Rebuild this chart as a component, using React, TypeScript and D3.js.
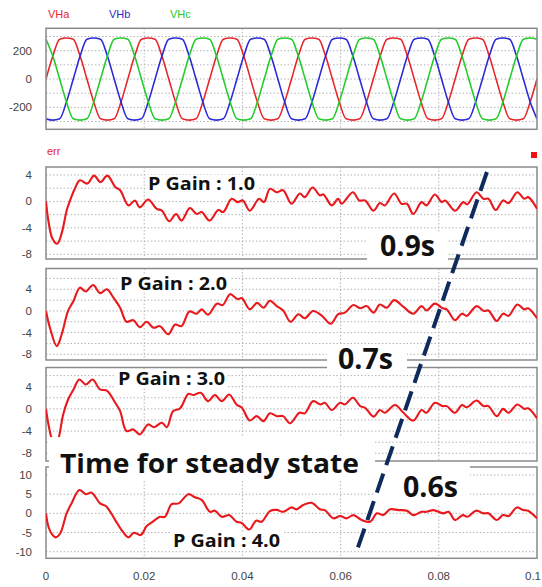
import React from 'react';
import * as d3 from 'd3';

const W = 542;
const H = 587;

// ---- data ----
const timeTicks = [0, 0.02, 0.04, 0.06, 0.08, 0.1];
const timeTickLabels = ['0', '0.02', '0.04', '0.06', '0.08', '0.1'];
const timeGrid = [0.02, 0.04, 0.06, 0.08];

const phaseNames = ['VHa', 'VHb', 'VHc'];
const phaseColors = ['#e8262a', '#2a2ad6', '#22cc2a'];
const phaseStepMs = 100 / 72;
const vha = [
  0, 162, 281, 290, 281, 162, 0, -162, -281, -290, -281, -162,
  0, 162, 281, 290, 281, 162, 0, -162, -281, -290, -281, -162,
  0, 162, 281, 290, 281, 162, 0, -162, -281, -290, -281, -162,
  0, 162, 281, 290, 281, 162, 0, -162, -281, -290, -281, -162,
  0, 162, 281, 290, 281, 162, 0, -162, -281, -290, -281, -162,
  0, 162, 281, 290, 281, 162, 0, -162, -281, -290, -281, -162,
  0,
];
const vhb = [
  -281, -290, -281, -162, 0, 162, 281, 290, 281, 162, 0, -162,
  -281, -290, -281, -162, 0, 162, 281, 290, 281, 162, 0, -162,
  -281, -290, -281, -162, 0, 162, 281, 290, 281, 162, 0, -162,
  -281, -290, -281, -162, 0, 162, 281, 290, 281, 162, 0, -162,
  -281, -290, -281, -162, 0, 162, 281, 290, 281, 162, 0, -162,
  -281, -290, -281, -162, 0, 162, 281, 290, 281, 162, 0, -162,
  -281,
];
const vhc = [
  281, 162, 0, -162, -281, -290, -281, -162, 0, 162, 281, 290,
  281, 162, 0, -162, -281, -290, -281, -162, 0, 162, 281, 290,
  281, 162, 0, -162, -281, -290, -281, -162, 0, 162, 281, 290,
  281, 162, 0, -162, -281, -290, -281, -162, 0, 162, 281, 290,
  281, 162, 0, -162, -281, -290, -281, -162, 0, 162, 281, 290,
  281, 162, 0, -162, -281, -290, -281, -162, 0, 162, 281, 290,
  281,
];
const phaseTicks = [200, 0, -200];
const phaseGrid = [300, 200, 100, 0, -100, -200, -300];

// error curves: [time ms, error]
const errGain1: [number, number][] = [[0,0],[0.5,-3],[1.3,-5.6],[2.3,-6.4],[3.2,-4.8],[4.2,-1.4],[4.9,0.15],[5.8,1.8],[6.9,3.2],[8.4,2.7],[9.8,3.9],[11.1,2.9],[12.5,3.9],[14.1,2.2],[15.1,1.7],[16.8,-0.6],[18.1,0.15],[19.1,-0.9],[20.8,0.3],[22.5,-1.1],[23.6,-1.4],[25.1,-3.0],[26.5,-1.9],[27.6,-2.9],[29.3,-1.0],[30.7,-1.9],[31.7,-1.6],[33.3,-2.9],[35.1,-1.3],[36.1,-1.6],[37.8,0.4],[39,-0.1],[40.1,0.15],[41.5,-1.4],[43.4,0.4],[44.4,-0.1],[45.6,1.9],[47,1.4],[48.3,1.7],[50,-0.35],[51.7,1.2],[52.7,0.65],[54.3,2.1],[55.8,0.9],[56.5,1.06],[58.2,-0.6],[59.5,0.4],[60.2,-0.35],[62.5,1.4],[63.8,0.15],[65,0.15],[66.7,-1.4],[68,-0.25],[69,-0.6],[70.9,1.2],[72.4,-0.35],[73.5,-0.35],[74.8,-1.9],[76.5,-0.1],[77.5,-0.6],[79.2,1.06],[80.6,-0.1],[81.3,0.15],[83.3,-1.4],[85,-0.1],[85.8,-0.45],[87.7,1.4],[89.1,0.4],[90.1,0.4],[91.6,-1.3],[93.1,0.15],[94.2,-0.25],[96,1.4],[97.4,0.4],[98.2,0.65],[100,-1.1]];
const errGain2: [number, number][] = [[0,0],[0.8,-3.1],[2.2,-6.5],[3.2,-4.3],[4.5,0],[5.6,1.85],[6.9,4.3],[8.1,3.6],[9.6,4.8],[11,3.3],[12.4,4.0],[13.7,2.5],[15.1,0.6],[16.4,-2.0],[17.8,-1.7],[19.1,-3.0],[20.5,-2.0],[21.9,-3.1],[23.2,-2.8],[24.9,-4.3],[26.3,-2.5],[27.6,-2.8],[29.2,-0.1],[30.7,-0.5],[31.7,0.3],[33,-0.7],[34.8,1.35],[36,1.1],[37.5,3.1],[39,2.2],[39.9,2.35],[41.5,0.3],[43,1.5],[44.3,0.6],[45.6,1.9],[47,0.9],[48.3,0.1],[49.8,-2.0],[51.4,-0.6],[52.7,-1.35],[54.4,0],[56.2,-0.9],[58,-2.35],[59.5,-0.6],[60.9,-0.3],[62.6,1.1],[64,0.5],[65.3,0.9],[66.7,-0.3],[68,1.2],[69.4,0.6],[70.9,2.0],[72.8,0.75],[74.8,-0.5],[76.5,0.9],[77.5,0.1],[79.2,1.35],[80.8,0.5],[81.6,0.3],[83.3,-1.7],[84.7,-0.5],[85.7,-0.9],[87.7,0.9],[89.2,0],[90.1,0.1],[91.8,-1.85],[93.1,-0.5],[94.2,-0.9],[96,1.2],[97.4,0.3],[98.2,0.5],[100,-1.35]];
const errGain3: [number, number][] = [[0,0],[0.5,-2.8],[1.2,-5.4],[1.9,-6.2],[2.5,-5.4],[3.5,-1],[4.5,1.7],[5.6,3.5],[6.8,5.3],[8.1,4.4],[9.5,5.3],[11,3.5],[12.4,3.3],[14.1,1.1],[15.1,-0.4],[16.4,-4.0],[17.8,-3.7],[19.1,-4.6],[20.8,-2.8],[22,-3.3],[23.6,-2.5],[24.6,-3.3],[25.9,-0.4],[27.3,0.1],[29,2.7],[30,2.5],[31.5,2.9],[33,1.4],[34.4,2.5],[35.8,1.4],[37.3,2.6],[38.8,0.8],[39.9,0.2],[41.5,-2.1],[42.9,-1.3],[44.3,-2.2],[45.6,-0.8],[47,-1.3],[48.3,-1.3],[49.7,-2.6],[51.6,-0.7],[52.7,-0.8],[54.4,1.4],[55.9,0.8],[56.8,1.1],[58.2,-0.2],[59.9,1.1],[60.9,0.8],[62.5,2.0],[64,0.5],[65,0.2],[66.7,-1.4],[68,-0.2],[69,-0.7],[71.1,0.7],[72.8,-0.7],[74.8,-2.1],[76.5,-0.2],[77.5,-0.7],[79.2,1.1],[80.8,0.5],[81.6,0.5],[83.3,-0.7],[84.7,0.7],[85.7,0.3],[87.7,1.5],[89.1,0.5],[90.1,0.5],[91.8,-1.3],[93.1,0],[94.2,-0.7],[96,0.8],[97.4,0],[98.2,0.1],[100,-1.7]];
const errGain4: [number, number][] = [[0,0],[0.5,-3.5],[1.2,-5.4],[2,-6.25],[2.9,-5.2],[4.2,0],[5.2,2.6],[6.8,6.1],[8.1,5.0],[9.3,5.4],[11,2.6],[12.2,1.9],[14.1,-1.75],[15.4,-4.35],[16.8,-6.25],[17.9,-5.05],[19.3,-5.65],[20.5,-3.3],[21.7,-2.2],[23.2,-0.9],[24.2,-0.9],[25.6,2.4],[27,2.6],[29,5.0],[30.3,4.2],[31.7,3.5],[33.4,0.4],[34.4,0.7],[35.8,-0.9],[37.3,-0.45],[38.8,-2.2],[39.8,-2.45],[41.4,-4.2],[42.8,-1.9],[43.9,-2.2],[45.6,0.6],[47,0.9],[48.3,0.4],[50,1.55],[51,1.05],[52.4,2.2],[54.1,2.75],[55.8,1.05],[56.8,0.85],[58.5,-1.3],[59.9,-0.7],[61.2,-1.3],[62.6,-0.45],[64.3,-1.75],[66,-2.2],[67.4,0],[68.7,-0.45],[70.1,1.05],[71.8,0.85],[73.5,0.7],[74.8,-0.45],[76.5,0.4],[77.5,0.4],[78.9,0.85],[80.9,0],[82,0.4],[83.3,-1.75],[84.9,-0.45],[85.8,-0.9],[87.6,0.7],[89.1,0],[90.1,0],[91.8,-1.75],[93.1,-0.45],[94.2,-0.7],[95.9,1.55],[97.2,0.85],[98.2,0.7],[100,-1.3]];

const gainLabels = ['P Gain : 1.0', 'P Gain : 2.0', 'P Gain : 3.0', 'P Gain : 4.0'];
const settleLabels = ['0.9s', '0.7s', '0.6s'];
const errTicksSmall = [4, 0, -4, -8];
const errTicksLarge = [10, 5, 0, -5, -10];

// ---- layout ----
const X0 = 46;
const X1 = 537;
const x = d3.scaleLinear().domain([0, 0.1]).range([X0, X1]);

const topPanel = { top: 28.3, bottom: 129.3, domain: [-355, 358] };

const errPanels = [
  { top: 167, bottom: 259, domain: [-8.71, 5.21], ticks: errTicksSmall, grid: [4, 2, 0, -2, -4, -6, -8], data: errGain1 },
  { top: 268.5, bottom: 360, domain: [-9.05, 7.84], ticks: errTicksSmall, grid: [6, 4, 2, 0, -2, -4, -6, -8], data: errGain2 },
  { top: 367.5, bottom: 461, domain: [-9.39, 7.46], ticks: errTicksSmall, grid: [6, 4, 2, 0, -2, -4, -6, -8], data: errGain3 },
  { top: 467, bottom: 558.3, domain: [-11.72, 12.09], ticks: errTicksLarge, grid: [10, 5, 0, -5, -10], data: errGain4 },
];

const gainPos = [
  { x: 148, y: 190 },
  { x: 120, y: 290 },
  { x: 118, y: 385 },
  { x: 173, y: 547 },
];
const settlePos = [
  { x: 380, y: 256, box: [367, 232, 81, 32] },
  { x: 338, y: 369, box: [327, 344, 80, 28] },
  { x: 403, y: 496.5, box: [375, 462, 95, 43] },
];

const tickFont = '"Liberation Sans", Arial, sans-serif';
const boldFont = '"Open Sans", "Noto Sans", sans-serif';
const gridStroke = '#b4b4b4';
const frameStroke = '#8a8a8a';

function Frame({ top, bottom, id }: { top: number; bottom: number; id: string }) {
  return (
    <>
      <defs>
        <clipPath id={id}>
          <rect x={X0} y={top} width={X1 - X0} height={bottom - top} />
        </clipPath>
      </defs>
      {timeGrid.map((t) => (
        <line key={'v' + t} x1={x(t)} x2={x(t)} y1={top} y2={bottom}
          stroke={gridStroke} strokeWidth={1} strokeDasharray="1.5 2" />
      ))}
    </>
  );
}

export default function App() {
  const yTop = d3.scaleLinear().domain(topPanel.domain).range([topPanel.bottom, topPanel.top]);
  const phaseLine = d3
    .line<number>()
    .x((_, i) => x((i * phaseStepMs) / 1000))
    .y((v) => yTop(v))
    .curve(d3.curveMonotoneX);
  const phases = [vha, vhb, vhc];

  const dashTop = { t: 0.0898, y: 172 };
  const dashBottom = { t: 0.0635, y: 548 };

  return (
    <svg width={W} height={H} style={{ position: 'absolute', left: 0, top: 0, background: '#fff' }}>
      <rect x={0} y={0} width={W} height={H} fill="#fff" />

      {/* legend */}
      {phaseNames.map((n, i) => (
        <text key={n} x={48 + i * 61} y={18} fontSize={11} fontFamily={tickFont} fill={phaseColors[i]}>{n}</text>
      ))}

      {/* top panel */}
      <Frame top={topPanel.top} bottom={topPanel.bottom} id="clipTop" />
      {phaseGrid.map((v) => (
        <line key={'hg' + v} x1={X0} x2={X1} y1={yTop(v)} y2={yTop(v)} stroke={gridStroke} strokeWidth={1} strokeDasharray="1.5 2" />
      ))}
      {phaseTicks.map((v) => (
        <text key={'pt' + v} x={32} y={yTop(v)} dy="0.35em" textAnchor="end" fontSize={11.5} fontFamily={tickFont} fill="#444">{v}</text>
      ))}
      <g clipPath="url(#clipTop)">
        {phases.map((arr, i) => (
          <path key={i} d={phaseLine(arr) || ''} fill="none" stroke={phaseColors[i]} strokeWidth={1.6} />
        ))}
      </g>
      <rect x={X0} y={topPanel.top} width={X1 - X0} height={topPanel.bottom - topPanel.top} fill="none" stroke={frameStroke} strokeWidth={1.5} />

      {/* err header */}
      <text x={47} y={155} fontSize={11} fontFamily={tickFont} fill="#e8262a">err</text>
      <rect x={531} y={152} width={6} height={6} fill="#ee1111" />

      {/* err panels */}
      {errPanels.map((p, pi) => {
        const y = d3.scaleLinear().domain(p.domain).range([p.bottom, p.top]);
        const line = d3
          .line<[number, number]>()
          .x((d) => x(d[0] / 1000))
          .y((d) => y(d[1]))
          .curve(d3.curveCatmullRom.alpha(0.5));
        const id = 'clipErr' + pi;
        return (
          <g key={id}>
            <Frame top={p.top} bottom={p.bottom} id={id} />
            {p.grid.map((v) => (
              <line key={'g' + v} x1={X0} x2={X1} y1={y(v)} y2={y(v)} stroke={gridStroke} strokeWidth={1} strokeDasharray="1.5 2" />
            ))}
            {p.ticks.map((v) => (
              <text key={'t' + v} x={32} y={y(v)} dy="0.35em" textAnchor="end" fontSize={11.5} fontFamily={tickFont} fill="#444">{v}</text>
            ))}
            <rect x={X0} y={p.top} width={X1 - X0} height={p.bottom - p.top} fill="none" stroke={frameStroke} strokeWidth={1.5} />
            <g clipPath={`url(#${id})`}>
              <path d={line(p.data) || ''} fill="none" stroke="#e8181c" strokeWidth={2.1} strokeLinejoin="round" />
            </g>
          </g>
        );
      })}

      {/* x axis labels */}
      {timeTicks.map((t, i) => {
        const last = i === timeTicks.length - 1;
        return (
          <text key={'x' + t} x={last ? W - 1 : x(t)} y={580} textAnchor={last ? 'end' : 'middle'}
            fontSize={11.5} fontFamily={tickFont} fill="#444">{timeTickLabels[i]}</text>
        );
      })}

      {/* gain annotations */}
      {gainLabels.map((g, i) => (
        <g key={g}>
          <rect x={gainPos[i].x - 3} y={gainPos[i].y - 15} width={113} height={18} fill="#fff" />
          <text x={gainPos[i].x} y={gainPos[i].y} fontSize={18.5} fontWeight={700} fontFamily={boldFont}
            fill="#111" textLength={107} lengthAdjust="spacingAndGlyphs">{g}</text>
        </g>
      ))}

      {/* settling annotations */}
      {settleLabels.map((s, i) => {
        const b = settlePos[i].box;
        return (
          <g key={s}>
            <rect x={b[0]} y={b[1]} width={b[2]} height={b[3]} fill="#fff" />
            <text x={settlePos[i].x} y={settlePos[i].y} fontSize={28} fontWeight={700} fontFamily={boldFont}
              fill="#111" textLength={55} lengthAdjust="spacingAndGlyphs">{s}</text>
          </g>
        );
      })}

      <rect x={49} y={437} width={326} height={43} fill="#fff" />
      <text x={60} y={472.5} fontSize={27} fontWeight={700} fontFamily={boldFont} fill="#111"
        textLength={299} lengthAdjust="spacingAndGlyphs">Time for steady state</text>

      {/* dashed trend line */}
      <line x1={x(dashTop.t)} y1={dashTop.y} x2={x(dashBottom.t)} y2={dashBottom.y}
        stroke="#0f2a5c" strokeWidth={4} strokeDasharray="20 9" />
    </svg>
  );
}
